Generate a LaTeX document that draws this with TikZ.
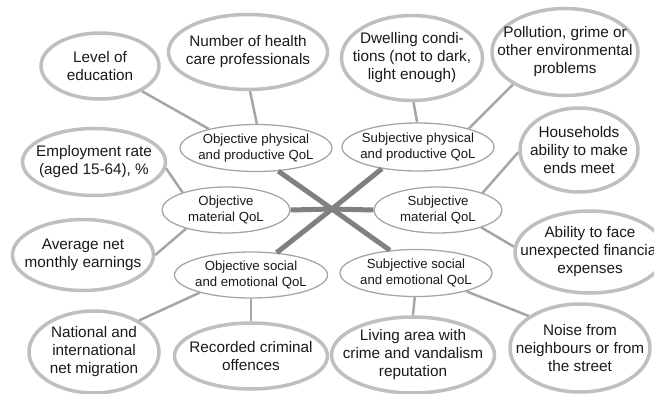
\documentclass[tikz,border=0pt]{standalone}
\usepackage{fontspec}
\setmainfont{Liberation Sans}
\usetikzlibrary{shapes.geometric}
\definecolor{outerc}{HTML}{BFBFBF}
\definecolor{innerc}{HTML}{A6A6A6}
\definecolor{linkc}{HTML}{A6A6A6}
\definecolor{hubc}{HTML}{808080}
\definecolor{txtc}{HTML}{1A1A1A}
\tikzset{
 outer/.style={ellipse, draw=outerc, line width=3.5pt, fill=white, inner sep=0pt},
 inner/.style={ellipse, draw=innerc, line width=1.3pt, fill=white, inner sep=0pt},
 otext/.style={align=center, font=\fontsize{15.3}{18}\selectfont, text=txtc, inner sep=0pt},
 itext/.style={align=center, font=\fontsize{13.2}{15.3}\selectfont, text=txtc, inner sep=0pt},
 link/.style={draw=linkc, line width=2.5pt},
 hub/.style={draw=hubc, line width=5pt},
}
\begin{document}
\begin{tikzpicture}[x=1pt,y=-1pt]
\useasboundingbox (0,0) rectangle (654,394);
% outer ellipses
\node[outer, minimum width=118pt, minimum height=66pt, label={[otext]center:{Level of\\education}}] (lev) at (100,66) {};
\node[outer, minimum width=159pt, minimum height=75pt, label={[otext]center:{Number of health\\care professionals}}] (hcp) at (248,52) {};
\node[outer, minimum width=143pt, minimum height=67pt, label={[otext]center:{Employment rate\\(aged 15-64), \%}}] (emp) at (94,162) {};
\node[outer, minimum width=141pt, minimum height=85pt, label={[otext]center:{Dwelling condi-\\tions (not to dark,\\light enough)}}] (dwe) at (412,58) {};
\node[outer, minimum width=146pt, minimum height=87pt, label={[otext]center:{Pollution, grime or\\other environmental\\problems}}] (pol) at (565,52) {};
\node[outer, minimum width=118pt, minimum height=84pt, label={[otext]center:{Households\\ability to make\\ends meet}}] (hou) at (579,150) {};
\node[outer, minimum width=141pt, minimum height=71pt, label={[otext]center:{Average net\\monthly earnings}}] (avg) at (83,255) {};
\node[outer, minimum width=130pt, minimum height=82pt, label={[otext]center:{National and\\international\\net migration}}] (nat) at (94,352) {};
\node[outer, minimum width=153pt, minimum height=66pt, label={[otext]center:{Recorded criminal\\offences}}] (rec) at (251,356) {};
\node[outer, minimum width=163pt, minimum height=76pt, label={[otext]center:{Living area with\\crime and vandalism\\reputation}}] (liv) at (413,355) {};
\node[outer, minimum width=140pt, minimum height=88pt, label={[otext]center:{Noise from\\neighbours or from\\the street}}] (noi) at (580,348) {};
\node[outer, minimum width=150pt, minimum height=82pt, label={[otext]center:{Ability to face\\unexpected financial\\expenses}}] (abi) at (590,252) {};
% inner ellipses
\node[inner, minimum width=152pt, minimum height=47pt, label={[itext]center:{Objective physical\\and productive QoL}}] (ophy) at (256,148) {};
\node[inner, minimum width=152pt, minimum height=48pt, label={[itext]center:{Subjective physical\\and productive QoL}}] (sphy) at (418,147) {};
\node[inner, minimum width=128pt, minimum height=46pt, label={[itext]center:{Objective\\material QoL}}] (omat) at (226,210) {};
\node[inner, minimum width=128pt, minimum height=46pt, label={[itext]center:{Subjective\\material QoL}}] (smat) at (438,210) {};
\node[inner, minimum width=153pt, minimum height=46pt, label={[itext]center:{Objective social\\and emotional QoL}}] (osoc) at (251,275) {};
\node[inner, minimum width=152pt, minimum height=47pt, label={[itext]center:{Subjective social\\and emotional QoL}}] (ssoc) at (416,273) {};
\coordinate (c) at (332,209);
% thin links
\draw[link] (lev.-31) -- (ophy.158);
\draw[link] (hcp.-87) -- (ophy.88);
\draw[link] (emp.-5) -- (omat.158);
\draw[link] (avg.0) -- (omat.205);
\draw[link] (osoc.199) -- (nat.35);
\draw[link] (osoc.-90) -- (rec.90);
\draw[link] (dwe.-88) -- (sphy.92);
\draw[link] (pol.212) -- (sphy.20);
\draw[link] (hou.182) -- (smat.21);
\draw[link] (smat.-22) -- (abi.176);
\draw[link] (ssoc.-93) -- (liv.90);
\draw[link] (ssoc.-20) -- (noi.148);
% hub
\draw[hub] (c) -- (ophy.-46);
\draw[hub] (c) -- (sphy.211);
\draw[hub] (c) -- (omat.0);
\draw[hub] (c) -- (smat.180);
\draw[hub] (c) -- (osoc.41);
\draw[hub] (c) -- (ssoc.139);
\end{tikzpicture}
\end{document}
